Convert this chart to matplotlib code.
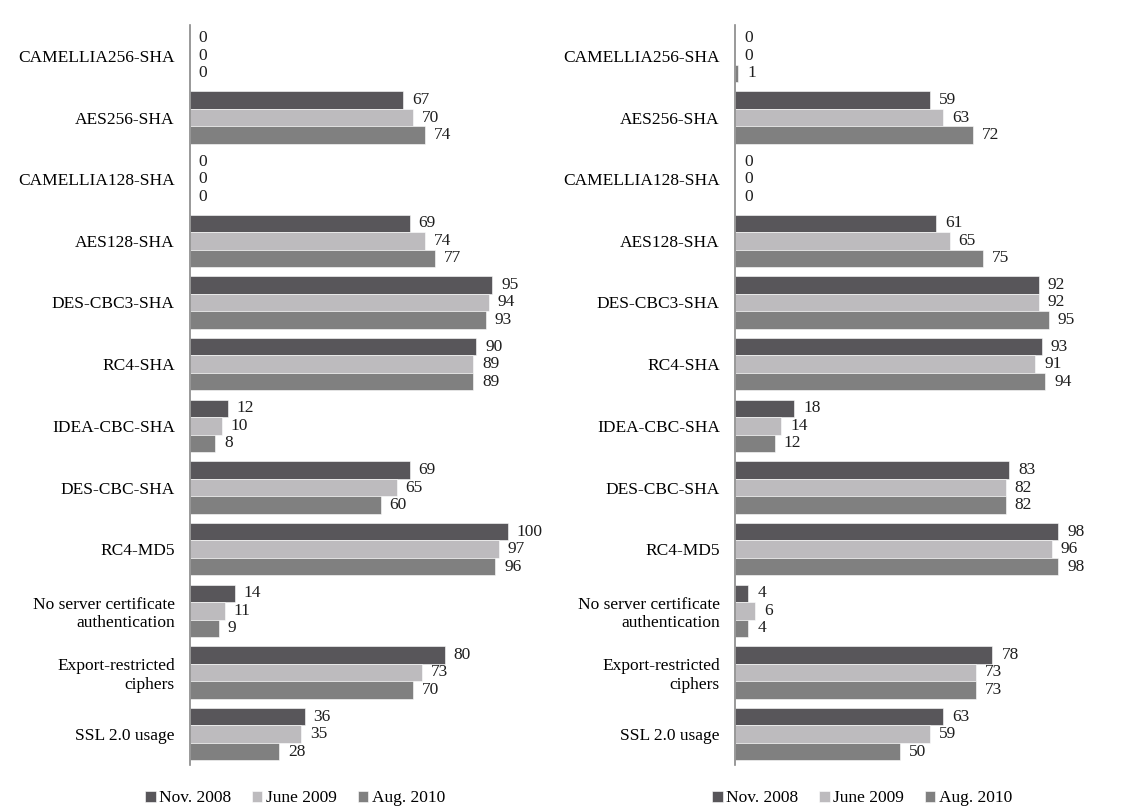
import numpy as np
import matplotlib
matplotlib.use("Agg")
import matplotlib.pyplot as plt

plt.rcParams['font.family'] = ['Liberation Serif', 'DejaVu Serif']

categories = ["CAMELLIA256-SHA", "AES256-SHA", "CAMELLIA128-SHA", "AES128-SHA",
              "DES-CBC3-SHA", "RC4-SHA", "IDEA-CBC-SHA", "DES-CBC-SHA", "RC4-MD5",
              "No server certificate\nauthentication", "Export-restricted\nciphers",
              "SSL 2.0 usage"]
series = ["Nov. 2008", "June 2009", "Aug. 2010"]
colors = ["#58565a", "#bdbbbe", "#808080"]

# left panel
left_nov08 = [0, 67, 0, 69, 95, 90, 12, 69, 100, 14, 80, 36]
left_jun09 = [0, 70, 0, 74, 94, 89, 10, 65, 97, 11, 73, 35]
left_aug10 = [0, 74, 0, 77, 93, 89, 8, 60, 96, 9, 70, 28]

# right panel
right_nov08 = [0, 59, 0, 61, 92, 93, 18, 83, 98, 4, 78, 63]
right_jun09 = [0, 63, 0, 65, 92, 91, 14, 82, 96, 6, 73, 59]
right_aug10 = [1, 72, 0, 75, 95, 94, 12, 82, 98, 4, 73, 50]

W, H = 1139, 810
fig = plt.figure(figsize=(W / 100, H / 100), dpi=100)


def panel(x0, width_px, xmax, data, legend_x):
    ax = fig.add_axes([x0 / W, 1 - 765 / H, width_px / W, 740 / H])
    n = len(categories)
    y = np.arange(n)
    bh = 0.283
    for k, vals in enumerate(data):
        pos = y + (k - 1) * bh
        ax.barh(pos, vals, height=bh, color=colors[k], edgecolor="white",
                linewidth=0.4, label=series[k])
        for p, v in zip(pos, vals):
            ax.text(v + xmax * 0.025, p, str(v), va="center", ha="left",
                    fontsize=12.5, color="#1e1e1e")
    ax.set_ylim(n - 0.5, -0.5)
    ax.set_xlim(0, xmax)
    ax.set_yticks(y)
    ax.set_yticklabels(categories, fontsize=12.5, color="#000000")
    ax.tick_params(axis="y", length=0, pad=11)
    ax.set_xticks([])
    for s in ["top", "right", "bottom"]:
        ax.spines[s].set_visible(False)
    ax.spines["left"].set_color("#888888")
    ax.spines["left"].set_linewidth(1.2)
    ax.legend(loc="center", bbox_to_anchor=(legend_x, -0.045), ncol=3,
              frameon=False, fontsize=12.5, handlelength=0.6, handleheight=0.6,
              handletextpad=0.2, columnspacing=1.2)
    return ax


panel(190, 350, 110, [left_nov08, left_jun09, left_aug10], 0.30)
panel(735, 363, 110, [right_nov08, right_jun09, right_aug10], 0.35)

fig.savefig("out.png", dpi=100)
